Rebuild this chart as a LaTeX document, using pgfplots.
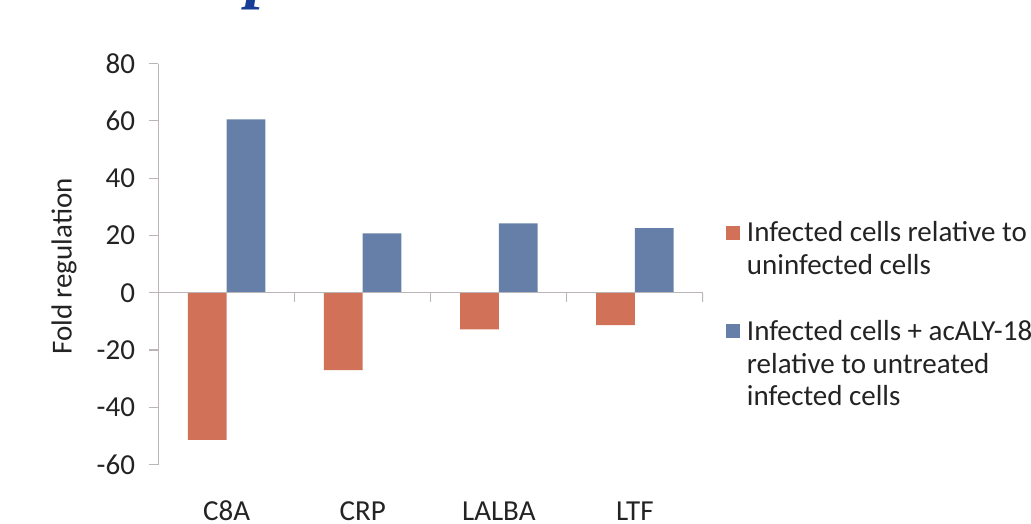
\documentclass[border=0pt]{standalone}
\usepackage{pgfplots}
\pgfplotsset{compat=1.18}
\usepackage{fontspec}
\setmainfont{Carlito}
\newfontfamily\titlefont{Liberation Serif}

\definecolor{barorange}{RGB}{209,113,88}
\definecolor{barblue}{RGB}{101,127,168}
\definecolor{axisgray}{RGB}{188,181,181}
\definecolor{textgray}{RGB}{35,35,35}
\definecolor{titleblue}{RGB}{22,62,150}

\newcommand{\chartfont}{\fontsize{29}{33}\selectfont}

\begin{document}
\begin{tikzpicture}
\begin{axis}[
  at={(158.5pt,58.4pt)}, anchor=south west,
  scale only axis, width=544.5pt, height=401pt,
  xmin=0.5, xmax=4.5, ymin=-60, ymax=80,
  ytick={-60,-40,...,80},
  xtick={1,2,3,4}, xticklabels={C8A,CRP,LALBA,LTF},
  axis y line*=left, axis x line*=bottom,
  x axis line style={draw=none},
  xtick style={draw=none},
  y axis line style={axisgray, line width=1.2pt},
  ytick style={axisgray, line width=1.2pt},
  tick align=outside, major tick length=9pt,
  /pgf/number format/assume math mode=true,
  tick label style={font=\chartfont, text=textgray},
  yticklabel style={xshift=-11pt},
  xticklabel style={anchor=base, yshift=-47pt},
  ylabel={Fold regulation},
  every axis y label/.style={at={(axis description cs:-0.1735,0.494)},
    rotate=90, anchor=center, font=\chartfont, text=textgray},
  ybar=0pt, bar width=38.8pt,
  area legend,
  legend image code/.code={\fill[#1] (0pt,-7pt) rectangle (14pt,7pt);},
  legend cell align=left,
  legend style={at={(axis description cs:1.0422,0.6175)}, anchor=north west,
    draw=none, fill=none, inner sep=0pt, outer sep=0pt,
    row sep=0.8pt, column sep=7pt, font=\chartfont,
    nodes={inner sep=0pt, text height=25pt, text depth=7pt, text=textgray}},
]
\addplot[fill=barorange, draw=none] coordinates {(1,-51.4) (2,-27.0) (3,-12.8) (4,-11.3)};
\addlegendentry{Infected cells relative to}
\addlegendimage{empty legend}
\addlegendentry{uninfected cells}
\addlegendimage{empty legend}
\addlegendentry{}
\addplot[fill=barblue, draw=none] coordinates {(1,60.5) (2,20.7) (3,24.2) (4,22.6)};
\addlegendentry{Infected cells + acALY-18}
\addlegendimage{empty legend}
\addlegendentry{relative to untreated}
\addlegendimage{empty legend}
\addlegendentry{infected cells}
% horizontal axis through zero with category separators
\draw[axisgray, line width=1.2pt] (axis cs:0.5,0) -- (axis cs:4.5,0);
\draw[axisgray, line width=1.2pt] (axis cs:1.5,0) -- ([yshift=-9pt]axis cs:1.5,0);
\draw[axisgray, line width=1.2pt] (axis cs:2.5,0) -- ([yshift=-9pt]axis cs:2.5,0);
\draw[axisgray, line width=1.2pt] (axis cs:3.5,0) -- ([yshift=-9pt]axis cs:3.5,0);
\draw[axisgray, line width=1.2pt] (axis cs:4.5,0) -- ([yshift=-9pt]axis cs:4.5,0);
\end{axis}
\node[anchor=base, text=titleblue, font=\titlefont\bfseries\itshape\fontsize{68}{68}\selectfont]
  at (263pt,527pt) {p};
\pgfresetboundingbox
\useasboundingbox (0,0) rectangle (1031pt,523pt);
\end{tikzpicture}
\end{document}
